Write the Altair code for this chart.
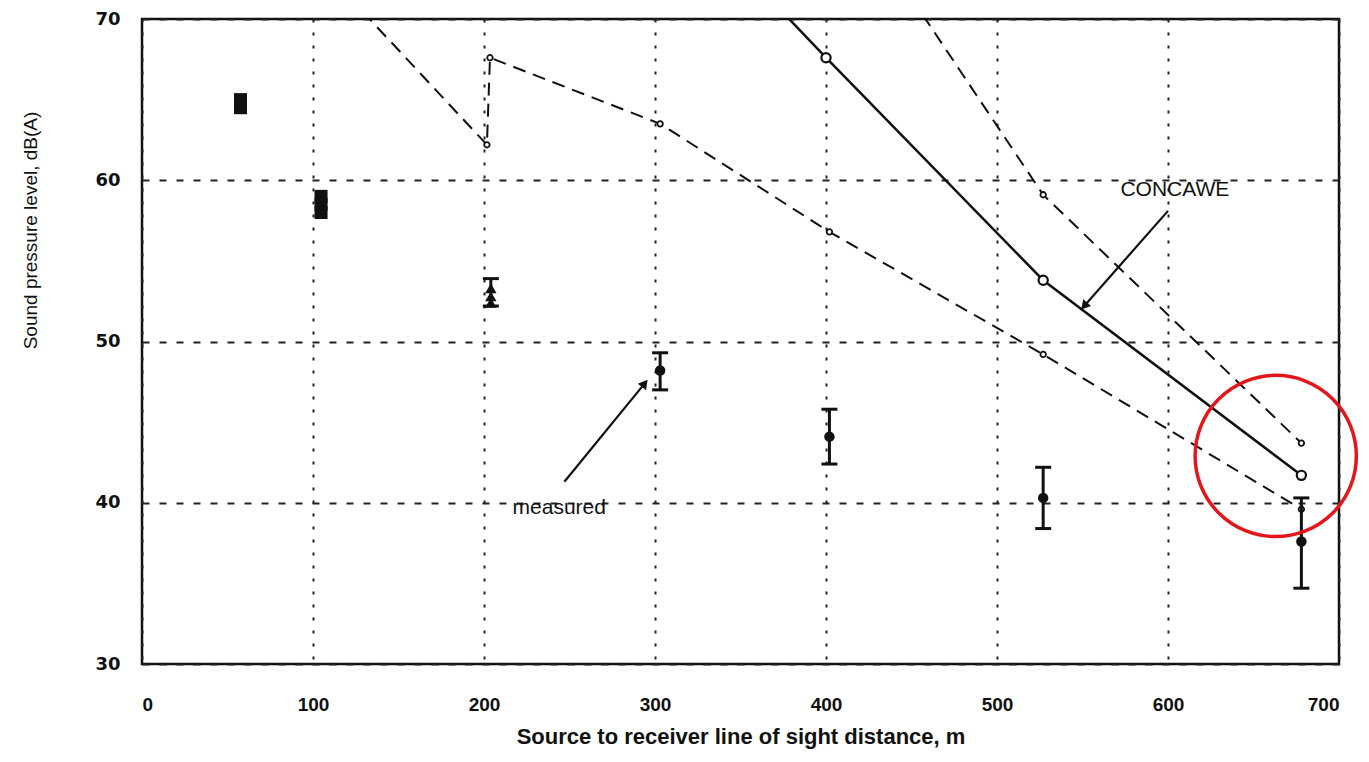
import altair as alt
import pandas as pd

# ---- data ----
# measured: filled circles with error bars
meas_x = [303, 402, 527, 678]
meas_y = [48.2, 44.1, 40.3, 37.6]
meas_lo = [47.0, 42.4, 38.4, 34.7]
meas_hi = [49.3, 45.8, 42.2, 40.3]

# measured clusters near the source
sq_x = [57.6, 57.6, 104.7, 104.7, 104.7]
sq_y = [64.5, 65.0, 58.0, 58.5, 59.0]
tri_x = [204, 204, 204]
tri_y = [52.4, 52.8, 53.3]
tri_lo = [52.2]
tri_hi = [53.9]
tri_bx = [204]

# CONCAWE prediction (solid line, open circles)
conc_x = [303, 400, 527, 678]
conc_y = [78.4, 67.6, 53.8, 41.7]

# other predictions (dashed lines, small open circles)
dashA_x = [104, 201.7, 203.5, 303, 402, 527, 678]
dashA_y = [73.3, 62.2, 67.6, 63.5, 56.8, 49.2, 39.6]
dashB_x = [402, 527, 678]
dashB_y = [78.9, 59.1, 43.7]

# annotations
label_text = ["CONCAWE", "measured"]
label_x = [604, 244]
label_y = [59.4, 39.7]
arrow_x = [600, 247]
arrow_y = [58.1, 41.3]
arrow_x2 = [551, 294]
arrow_y2 = [52.2, 47.4]
arrow_angle = [221, 38]

ring_x = [663]
ring_y = [42.9]

FONT = "Liberation Sans"

xs = alt.Scale(domain=[0, 700], nice=False, zero=False)
ys = alt.Scale(domain=[30, 70], nice=False, zero=False)

X = alt.X("x:Q", scale=xs,
          axis=alt.Axis(values=list(range(0, 701, 100)), title="Source to receiver line of sight distance, m",
                        grid=True, gridDash=[3, 10], gridColor="#222", gridWidth=2,
                        labelFont=FONT, labelFontWeight="bold", labelFontSize=19,
                        labelPadding=31, titleFont=FONT, titleFontWeight="bold",
                        titleFontSize=22, titlePadding=12, labelColor="#111", titleColor="#111"))
Y = alt.Y("y:Q", scale=ys,
          axis=alt.Axis(values=list(range(30, 71, 10)), title="Sound pressure level, dB(A)",
                        grid=True, gridDash=[7, 10], gridColor="#222", gridWidth=2,
                        labelFont="DejaVu Sans", labelFontWeight="bold", labelFontSize=18,
                        labelPadding=22, titleFont=FONT, titleFontWeight="normal",
                        titleFontSize=19, titleX=-112, titleY=211, titleBaseline="middle",
                        labelColor="#111", titleColor="#111"))

def df(xv, yv, **extra):
    d = pd.DataFrame({"x": xv, "y": yv, "i": list(range(len(xv)))})
    for k, v in extra.items():
        d[k] = v
    return d

base_grid = alt.Chart(df(meas_x, meas_y)).mark_point(opacity=0).encode(x=X, y=Y)

line_dA = alt.Chart(df(dashA_x, dashA_y)).mark_line(clip=True, color="#111", strokeWidth=2, strokeDash=[13, 8]).encode(
    x=alt.X("x:Q", scale=xs), y=alt.Y("y:Q", scale=ys), order="i:Q")
line_dB = alt.Chart(df(dashB_x, dashB_y)).mark_line(clip=True, color="#111", strokeWidth=2, strokeDash=[13, 8]).encode(
    x=alt.X("x:Q", scale=xs), y=alt.Y("y:Q", scale=ys), order="i:Q")
line_c = alt.Chart(df(conc_x, conc_y)).mark_line(clip=True, color="#111", strokeWidth=2.5).encode(
    x=alt.X("x:Q", scale=xs), y=alt.Y("y:Q", scale=ys), order="i:Q")

pts_small = alt.Chart(pd.concat([df(dashA_x, dashA_y), df(dashB_x, dashB_y)])).transform_filter(
    "datum.y <= 70").mark_point(shape="circle", filled=True, fill="white", stroke="#111", strokeWidth=1.8,
                                size=30, opacity=1).encode(x=alt.X("x:Q", scale=xs), y=alt.Y("y:Q", scale=ys))
pts_conc = alt.Chart(df(conc_x, conc_y)).transform_filter("datum.y <= 70").mark_point(
    shape="circle", filled=True, fill="white", stroke="#111", strokeWidth=2.2, size=85, opacity=1).encode(
    x=alt.X("x:Q", scale=xs), y=alt.Y("y:Q", scale=ys))

err_df = df(meas_x, meas_y, lo=meas_lo, hi=meas_hi)
tri_err_df = df(tri_bx, [53.0], lo=tri_lo, hi=tri_hi)
err_all = pd.concat([err_df, tri_err_df])
err_rule = alt.Chart(err_all).mark_rule(color="#111", strokeWidth=3).encode(
    x=alt.X("x:Q", scale=xs), y=alt.Y("lo:Q", scale=ys), y2="hi:Q")
cap_lo = alt.Chart(err_all).mark_tick(color="#111", thickness=3, size=16, orient="horizontal", opacity=1).encode(
    x=alt.X("x:Q", scale=xs), y=alt.Y("lo:Q", scale=ys))
cap_hi = alt.Chart(err_all).mark_tick(color="#111", thickness=3, size=16, orient="horizontal", opacity=1).encode(
    x=alt.X("x:Q", scale=xs), y=alt.Y("hi:Q", scale=ys))
meas_pts = alt.Chart(err_df).mark_point(shape="circle", filled=True, color="#111", size=110, opacity=1).encode(
    x=alt.X("x:Q", scale=xs), y=alt.Y("y:Q", scale=ys))
sq_pts = alt.Chart(df(sq_x, sq_y)).mark_point(shape="square", filled=True, color="#111", size=170, opacity=1).encode(
    x=alt.X("x:Q", scale=xs), y=alt.Y("y:Q", scale=ys))
tri_pts = alt.Chart(df(tri_x, tri_y)).mark_point(shape="triangle-up", filled=True, color="#111", size=130, opacity=1).encode(
    x=alt.X("x:Q", scale=xs), y=alt.Y("y:Q", scale=ys))

ann_df = pd.DataFrame({"t": label_text, "x": label_x, "y": label_y})
ann = alt.Chart(ann_df).mark_text(font=FONT, fontSize=21, color="#111", align="center", baseline="middle").encode(
    x=alt.X("x:Q", scale=xs), y=alt.Y("y:Q", scale=ys), text="t:N")

arr_df = pd.DataFrame({"x": arrow_x, "y": arrow_y, "x2": arrow_x2, "y2": arrow_y2, "a": arrow_angle})
arr_line = alt.Chart(arr_df).mark_rule(color="#111", strokeWidth=2.2).encode(
    x=alt.X("x:Q", scale=xs), y=alt.Y("y:Q", scale=ys), x2="x2:Q", y2="y2:Q")
arr_head = alt.Chart(arr_df).mark_point(shape="triangle-up", filled=True, color="#111", size=110, opacity=1).encode(
    x=alt.X("x2:Q", scale=xs), y=alt.Y("y2:Q", scale=ys), angle=alt.Angle("a:Q", scale=None))

ring = alt.Chart(df(ring_x, ring_y)).mark_point(shape="circle", filled=False, stroke="#e3161c", strokeWidth=3.5,
                                                  size=26000, opacity=1, clip=False).encode(
    x=alt.X("x:Q", scale=xs), y=alt.Y("y:Q", scale=ys))

chart = alt.layer(base_grid, line_dA, line_dB, line_c, pts_small, pts_conc, err_rule, cap_lo, cap_hi,
                  meas_pts, sq_pts, tri_pts, arr_line, arr_head, ann, ring).properties(
    width=1197, height=645,
    autosize=alt.AutoSizeParams(type="none"),
    padding={"left": 134, "top": 11, "right": 20, "bottom": 88},
).configure_view(stroke="#111", strokeWidth=2.5).configure_axis(domain=False, ticks=False)

chart.save("out.html", embed_options={"renderer": "svg", "actions": False})
